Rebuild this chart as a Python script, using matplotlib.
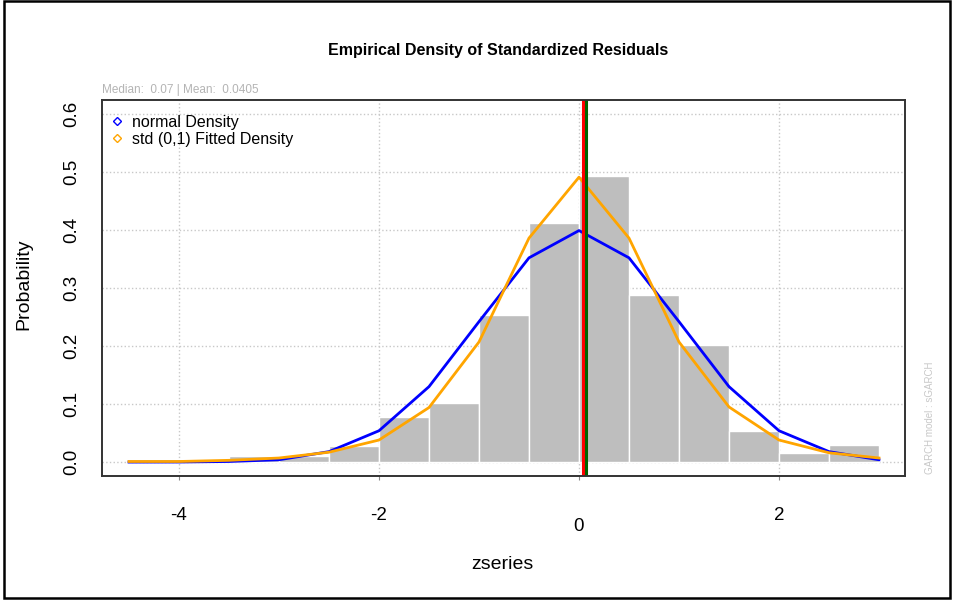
import matplotlib
matplotlib.use('Agg')
import matplotlib.pyplot as plt
from matplotlib.lines import Line2D
from matplotlib.patches import Rectangle
from matplotlib.transforms import ScaledTranslation

plt.rcParams['font.family'] = ['Liberation Sans', 'DejaVu Sans']

# Histogram breaks and densities
breaks = [-4.5, -4.0, -3.5, -3.0, -2.5, -2.0, -1.5, -1.0, -0.5,
          0.0, 0.5, 1.0, 1.5, 2.0, 2.5, 3.0]
hist_density = [0.0, 0.0, 0.010, 0.010, 0.028, 0.078, 0.102, 0.253,
                0.412, 0.493, 0.288, 0.202, 0.053, 0.015, 0.029]

# Density curves evaluated at the breaks
normal_density = [0.0, 0.0001, 0.001, 0.004, 0.018, 0.054, 0.130, 0.242,
                  0.352, 0.399, 0.352, 0.242, 0.130, 0.054, 0.018, 0.004]
std_density = [0.001, 0.001, 0.003, 0.007, 0.017, 0.038, 0.094, 0.207,
               0.386, 0.491, 0.386, 0.207, 0.095, 0.038, 0.016, 0.007]

mean_z = 0.0405
median_z = 0.07

fig = plt.figure(figsize=(9.54, 6.0), dpi=100)
ax = fig.add_axes([102 / 954, 1 - 476 / 600, 803 / 954, 376 / 600])

ax.set_axisbelow(True)
ax.grid(True, linestyle=':', color='#c8c8c8', linewidth=1.0)

widths = [b - a for a, b in zip(breaks[:-1], breaks[1:])]
ax.bar(breaks[:-1], hist_density, width=widths, align='edge',
       color='#bebebe', edgecolor='white', linewidth=1.0)

ax.plot(breaks, normal_density, color='blue', lw=2.0)
ax.plot(breaks, std_density, color='orange', lw=2.0)
ax.axvline(mean_z, color='red', lw=2.2)
ax.axvline(median_z, color='#006400', lw=2.2)

ax.set_xlim(-4.77, 3.26)
ax.set_ylim(-0.024, 0.624)
ax.set_xticks([-4, -2, 0, 2])
ax.set_xticklabels(['-4', '-2', '0', '2'])
ax.set_yticks([0.0, 0.1, 0.2, 0.3, 0.4, 0.5, 0.6])
ax.set_yticklabels(['0.0', '0.1', '0.2', '0.3', '0.4', '0.5', '0.6'],
                   rotation=90, va='center')
ax.tick_params(axis='x', length=3, pad=19, labelsize=13.5, color='#888888')
ax.tick_params(axis='y', length=0, pad=16, labelsize=13.5)

# the 0 tick label sits lower in the original
lbl0 = ax.get_xticklabels()[2]
lbl0.set_transform(lbl0.get_transform() +
                   ScaledTranslation(0, -11 / 100, fig.dpi_scale_trans))

for s in ax.spines.values():
    s.set_color('#333333')
    s.set_linewidth(1.4)

ax.set_xlabel('zseries', fontsize=14)
ax.xaxis.set_label_coords(0.499, -0.213)
ax.set_ylabel('Probability', fontsize=14)
ax.yaxis.set_label_coords(-0.087, 0.509)

handles = [Line2D([], [], marker='D', markersize=4, markerfacecolor='none',
                  markeredgecolor='blue', linestyle='none'),
           Line2D([], [], marker='D', markersize=4, markerfacecolor='none',
                  markeredgecolor='orange', linestyle='none')]
ax.legend(handles, ['normal Density', 'std (0,1) Fitted Density'],
          loc='upper left', bbox_to_anchor=(-0.003, 0.99), frameon=False,
          fontsize=11.5, handlelength=0.8, handletextpad=0.5,
          labelspacing=0.1, borderaxespad=0.3)

fig.text(498 / 954, 1 - 50 / 600, 'Empirical Density of Standardized Residuals',
         ha='center', va='center', fontsize=11.5, fontweight='bold')
fig.text(102 / 954, 1 - 93 / 600, 'Median:  0.07 | Mean:  0.0405',
         ha='left', va='baseline', fontsize=8.5, color='#b4b4b4')
fig.text(930 / 954, 1 - 418 / 600, 'GARCH model : sGARCH', rotation=90,
         ha='center', va='center', fontsize=7, color='#c8c8c8')

# outer frame of the screenshot
fig.patches.append(Rectangle((4 / 954, 2 / 600), 946 / 954, 597 / 600,
                             transform=fig.transFigure, fill=False,
                             edgecolor='black', linewidth=1.8))

plt.savefig('out.png', dpi=100)
plt.close()
